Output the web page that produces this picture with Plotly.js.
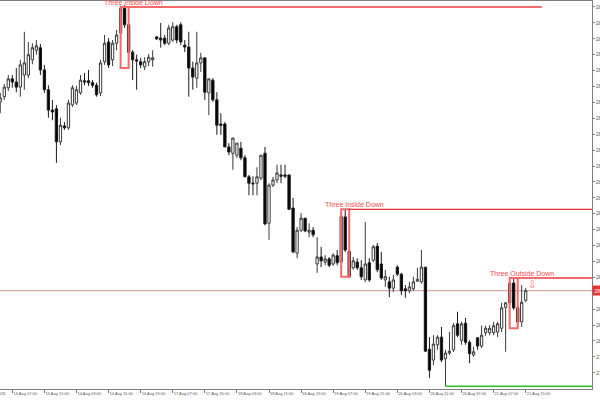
<!DOCTYPE html>
<html>
<head>
<meta charset="utf-8">
<script src="https://cdn.plot.ly/plotly-3.0.1.min.js"></script>
<style>html,body{margin:0;padding:0;background:#fff;}#chart{width:600px;height:400px;}</style>
</head>
<body>
<div id="chart"></div>
<script>
// ---- DATA (hourly candles) ----
const open = [283.76,283.84,283.98,284.12,284.07,283.99,284.18,284.18,284.42,284.57,
284.61,284.26,283.95,283.63,283.65,283.13,283.38,283.35,283.71,283.74,
283.90,284.09,284.09,284.06,284.02,283.90,284.39,284.70,284.42,284.68,
284.84,285.23,284.97,284.54,284.42,284.39,284.31,284.39,284.42,284.78,
284.76,284.76,284.68,284.73,284.94,284.97,284.65,284.62,284.29,284.13,
284.37,284.45,283.90,284.10,283.79,283.41,283.41,283.05,282.95,282.92,
283.03,282.88,282.58,282.48,282.48,282.56,282.95,281.85,282.45,282.53,
282.61,282.61,282.61,282.09,281.38,281.74,281.93,281.71,281.74,281.21,
281.32,281.24,281.29,281.21,281.34,281.24,281.95,281.41,281.15,281.24,
281.15,280.96,281.23,281.27,281.49,281.21,280.96,280.93,280.83,281.16,
281.05,280.82,280.79,280.82,280.94,280.93,281.16,279.87,279.70,279.94,
280.06,279.72,279.81,279.86,280.27,280.01,280.28,279.98,279.78,280.05,
279.92,280.13,280.13,280.13,280.14,280.20,280.53,280.60,280.91,280.52,
280.30,280.64];
const high = [283.90,284.04,284.18,284.18,284.29,284.42,284.86,284.70,284.68,284.73,
284.67,284.34,284.02,283.79,283.71,283.51,283.44,283.79,284.02,284.01,
284.18,284.21,284.26,284.10,284.06,284.42,284.81,284.76,284.73,284.89,
285.27,285.28,285.01,284.57,284.50,284.45,284.46,284.51,284.57,284.79,
285.00,284.81,284.97,285.01,284.97,285.01,284.73,284.86,284.39,284.86,
284.53,284.45,284.12,284.13,283.91,283.58,283.44,283.11,283.19,283.11,
283.13,282.92,282.61,282.59,282.73,282.92,283.05,282.48,282.58,282.77,
282.77,282.77,282.61,282.25,281.79,282.01,281.93,281.85,281.79,281.63,
281.48,281.35,281.32,281.38,281.43,282.03,282.06,281.46,281.32,281.30,
281.27,281.87,281.30,281.51,281.54,281.40,281.12,281.01,281.04,281.19,
281.07,280.88,280.93,281.01,281.15,281.43,281.16,280.06,280.09,280.09,
280.22,279.86,280.14,280.28,280.46,280.30,280.36,280.01,279.91,280.06,
280.24,280.24,280.25,280.30,280.30,280.60,280.60,280.96,280.99,280.57,
280.88,280.83];
const low = [283.58,283.79,283.93,283.98,283.91,283.84,283.95,284.13,284.35,284.50,
284.18,283.90,283.51,283.47,282.80,283.08,283.32,283.32,283.68,283.71,
283.87,284.02,284.01,283.98,283.84,283.85,284.34,284.29,284.32,284.57,
284.81,284.92,284.29,284.10,283.95,284.29,284.26,284.32,284.31,284.73,
284.61,284.65,284.65,284.70,284.68,284.65,284.54,283.84,283.95,283.98,
284.23,283.79,283.55,283.76,283.24,283.24,283.05,282.92,282.69,282.88,
282.84,282.58,282.29,282.29,282.29,282.53,281.82,281.59,282.42,282.48,
282.48,282.56,282.06,281.38,281.30,281.71,281.71,281.63,281.63,281.07,
281.16,281.19,281.16,281.18,281.19,281.21,281.40,281.00,281.12,281.12,
280.96,280.93,280.93,281.24,281.08,280.96,280.85,280.69,280.77,281.02,
280.72,280.68,280.75,280.79,280.93,280.90,279.83,279.42,279.62,279.86,
279.67,279.29,279.78,279.83,280.06,279.94,279.94,279.65,279.75,279.86,
279.89,280.08,280.09,280.09,280.06,280.14,279.83,280.57,280.49,280.20,
280.22,280.61];
const close = [283.82,283.99,284.12,284.07,283.99,284.34,284.37,284.50,284.61,284.64,
284.26,283.95,283.63,283.60,283.13,283.39,283.35,283.74,283.98,283.95,
284.10,284.07,284.06,284.02,283.87,284.37,284.68,284.34,284.68,284.81,
285.23,284.97,284.54,284.42,284.40,284.34,284.39,284.46,284.45,284.75,
284.73,284.68,284.92,284.94,284.73,284.70,284.62,284.29,284.15,284.37,
284.45,283.91,284.12,283.79,283.39,283.39,283.05,282.97,283.19,283.11,
282.88,282.58,282.48,282.47,282.58,282.92,281.84,282.45,282.53,282.64,
282.59,282.59,282.07,281.40,281.74,281.93,281.73,281.74,281.67,281.32,
281.26,281.29,281.19,281.35,281.23,281.96,281.43,281.01,281.26,281.15,
281.01,281.21,280.96,281.48,281.12,280.99,281.01,280.83,280.96,281.05,
280.79,280.79,280.85,280.93,280.97,281.16,279.84,279.54,279.95,280.06,
279.70,279.81,279.84,280.24,280.09,280.27,279.98,279.80,279.83,279.92,
280.09,280.20,280.20,280.24,280.27,280.52,280.60,280.91,280.52,280.30,
280.61,280.79];

// x tick labels (every 8th bar, starting at bar 3)
const xTickBars = [3,11,19,27,35,43,51,59,67,75,83,91,99,107,115,123,131];
const xTickLabels = ["13 Aug 07:00","13 Aug 15:00","14 Aug 03:00","14 Aug 11:00","14 Aug 19:00",
"17 Aug 07:00","17 Aug 15:00","18 Aug 03:00","18 Aug 11:00","18 Aug 19:00","19 Aug 07:00",
"19 Aug 15:00","20 Aug 03:00","20 Aug 11:00","20 Aug 19:00","21 Aug 07:00","21 Aug 15:00"];
const firstLabel = "12 Aug 2026";

// y tick values / labels
const yTickVals = [285.25,285.00,284.75,284.50,284.25,284.00,283.75,283.50,283.25,283.00,
282.75,282.50,282.25,282.00,281.75,281.50,281.25,281.00,280.75,280.50,280.25,280.00,279.75,279.50];
const yTickLabels = yTickVals.map(v => v.toFixed(2));

// detected patterns
const patName   = ["Three Inside Down","Three Inside Down","Three Outside Down"];
const patStart  = [30,85,127];
const patEnd    = [32,87,129];
const patTop    = [285.25,282.07,280.99];
const patBottom = [284.29,281.01,280.20];
const patLineEndBar = [135,null,null];   // null = to the right edge

// support level (green)
const supportLevel = 279.29;
const supportStartBar = 111;

// ---- STYLES ----
const salmon = '#f46a6a';
const levelColor = [salmon,'#e00000',salmon];
const levelWidth = [2,1,2];
const xEnd = 147.53;
const font = 'Liberation Sans, Arial, sans-serif';

const bars = open.map((_, i) => i);
const lastClose = close[close.length - 1];

const shapes = [];
const annotations = [];

// current price line
shapes.push({type:'line', xref:'paper', x0:0, x1:1, yref:'y', y0:lastClose, y1:lastClose,
  line:{color:'#c49494', width:1}, layer:'below'});

patName.forEach((name, k) => {
  shapes.push({type:'rect', xref:'x', yref:'y', x0:patStart[k], x1:patEnd[k],
    y0:patBottom[k], y1:patTop[k], line:{color:salmon, width:2}, fillcolor:'rgba(0,0,0,0)'});
  const xe = patLineEndBar[k] === null ? xEnd + 2 : patLineEndBar[k];
  shapes.push({type:'line', xref:'x', yref:'y', x0:patEnd[k], x1:xe, y0:patTop[k], y1:patTop[k],
    line:{color:levelColor[k], width:levelWidth[k]}});
  annotations.push({x:patEnd[k] + 1.2, y:patTop[k], xref:'x', yref:'y', text:name,
    showarrow:false, xanchor:'center', yanchor:'bottom', yshift:-1,
    font:{family:font, size:7, color:'#f04848'}});
});

// down arrow after the last pattern
annotations.push({x:patEnd[2] + 3.6, y:patTop[2], xref:'x', yref:'y', text:'⇩', showarrow:false,
  xanchor:'center', yanchor:'top', yshift:1,
  font:{family:'DejaVu Sans, sans-serif', size:10, color:salmon}});

// support line
shapes.push({type:'line', xref:'x', yref:'y', x0:supportStartBar, x1:xEnd + 2,
  y0:supportLevel, y1:supportLevel, line:{color:'#2ec42e', width:1.5}});

// price tag on the right axis
annotations.push({xref:'paper', x:1, xanchor:'left', yref:'y', y:lastClose, yanchor:'middle',
  text:lastClose.toFixed(2), showarrow:false, bgcolor:'#e83030', borderpad:1.5,
  font:{family:font, size:5, color:'#ffffff'}});

// partially hidden first date label
annotations.push({xref:'paper', x:8/592, xanchor:'right', yref:'paper', y:-0.012, yanchor:'middle',
  text:firstLabel, showarrow:false, textangle:0,
  font:{family:font, size:4, color:'#555555'}});

const trace = {
  type:'candlestick', x:bars, open:open, high:high, low:low, close:close,
  increasing:{line:{color:'#3a3a3a', width:1}, fillcolor:'#ffffff'},
  decreasing:{line:{color:'#1a1a1a', width:1}, fillcolor:'#000000'},
  whiskerwidth:0, hoverinfo:'skip', showlegend:false
};

const layout = {
  width:600, height:400,
  margin:{l:0, r:8, t:1, b:11, pad:0},
  paper_bgcolor:'#ffffff', plot_bgcolor:'#ffffff',
  showlegend:false,
  boxgap:0.18,
  xaxis:{type:'linear', range:[-0.067, xEnd], rangeslider:{visible:false},
    tickmode:'array', tickvals:xTickBars, ticktext:xTickLabels, tickangle:0, automargin:false,
    ticks:'outside', ticklen:3, tickcolor:'#808080', ticklabelposition:'outside right',
    tickfont:{family:font, size:4, color:'#555555'},
    showline:true, linecolor:'#808080', linewidth:1, mirror:true,
    showgrid:false, zeroline:false, fixedrange:true},
  yaxis:{side:'right', range:[279.245, 285.344], automargin:false,
    tickmode:'array', tickvals:yTickVals, ticktext:yTickLabels,
    ticks:'outside', ticklen:2, tickcolor:'#808080',
    tickfont:{family:font, size:5, color:'#555555'},
    showline:true, linecolor:'#808080', linewidth:1,
    showgrid:false, zeroline:false, fixedrange:true},
  shapes:shapes,
  annotations:annotations
};

Plotly.newPlot('chart', [trace], layout, {displayModeBar:false, staticPlot:true});
</script>
</body>
</html>
